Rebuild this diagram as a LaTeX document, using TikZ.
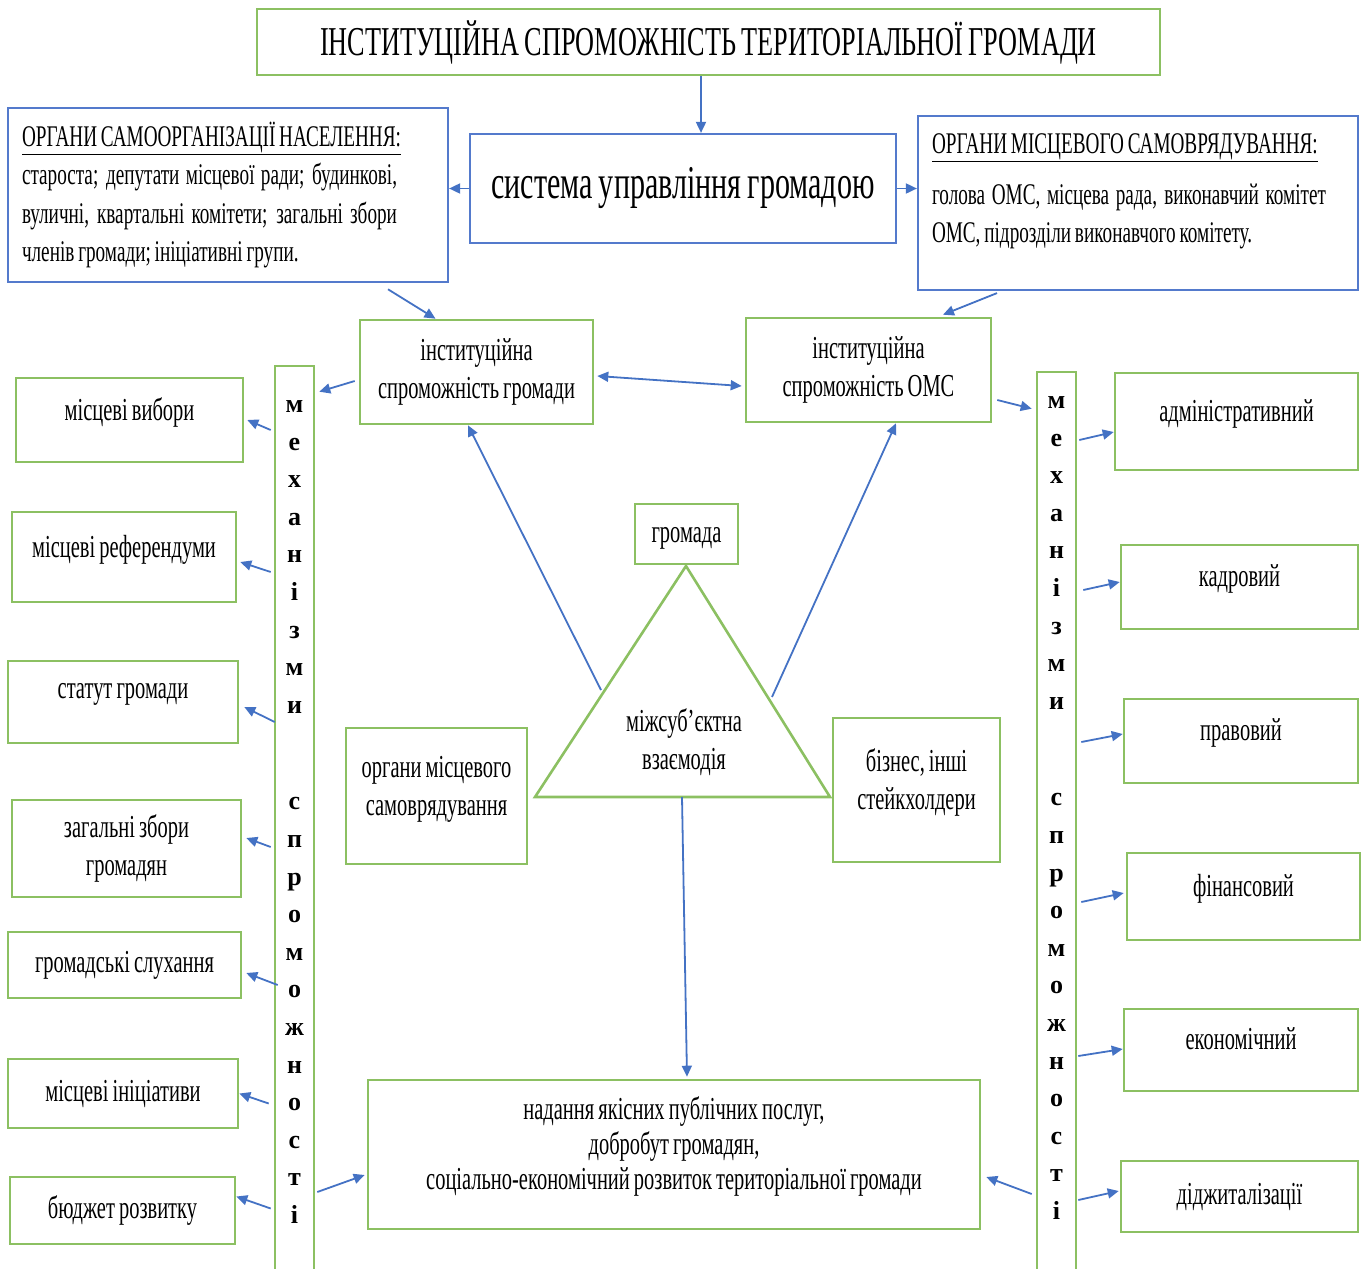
\documentclass[tikz,border=0pt]{standalone}
\usepackage{fontspec}
\setmainfont[FakeStretch=0.64, WordSpace=0.8]{Liberation Serif}
\newfontfamily\barfont{Liberation Serif}
\usetikzlibrary{arrows.meta}
\definecolor{boxgreen}{RGB}{140,192,98}
\definecolor{boxblue}{RGB}{84,122,204}
\definecolor{arrblue}{RGB}{68,114,196}
\newcommand{\txtfont}{\fontsize{32}{38}\selectfont}
\newcommand{\bluefont}{\fontsize{30}{38.5}\selectfont}
\tikzset{
  gbox/.style={draw=boxgreen, line width=2.6pt, fill=white, inner sep=6pt, font=\txtfont},
  bbox/.style={draw=boxblue, line width=2.2pt, fill=white, inner sep=14pt, font=\bluefont},
  lift/.style={text depth=22pt},
  bartext/.style={align=center, font=\barfont\bfseries\fontsize{26}{37.6}\selectfont},
  arr/.style={->, draw=arrblue, line width=1.8pt},
}
\begin{document}
\begin{tikzpicture}[x=1pt, y=-1pt, >={Triangle[length=11pt,width=10pt]}]
\useasboundingbox (0,0) rectangle (1366,1269);
\clip (0,0) rectangle (1366,1269);
% top level
\node[gbox, minimum width=903, minimum height=66, font=\fontsize{41}{48}\selectfont] (title) at (708.5,42) {ІНСТИТУЦІЙНА СПРОМОЖНІСТЬ ТЕРИТОРІАЛЬНОЇ ГРОМАДИ};
\node[bbox, minimum width=426, minimum height=109, font=\fontsize{47}{54}\selectfont] (sys) at (683,188.5) {система управління громадою};
\node[bbox, minimum width=440, minimum height=172] (som) at (228,195) {\parbox{375pt}{\underline{ОРГАНИ САМООРГАНІЗАЦІЇ НАСЕЛЕННЯ:}\\ староста; депутати місцевої ради; будинкові,\linebreak вуличні, квартальні комітети; загальні збори\linebreak членів громади; ініціативні групи.}\hspace*{37pt}};
\node[bbox, minimum width=440, minimum height=174] (oms) at (1138,203) {\parbox{394pt}{\underline{ОРГАНИ МІСЦЕВОГО САМОВРЯДУВАННЯ:}\\[12pt] голова ОМС, місцева рада, виконавчий комітет\linebreak ОМС, підрозділи виконавчого комітету.\\[-9pt]\mbox{}}\hspace*{18pt}};
\node[gbox, minimum width=233, minimum height=104, align=center] (isg) at (476.5,372) {інституційна\\спроможність громади};
\node[gbox, minimum width=245, minimum height=104, align=center] (isoms) at (868.5,370) {інституційна\\спроможність ОМС};
% mechanism bars
\node[gbox, minimum width=39, minimum height=924] (lbar) at (294.5,828) {};
\node[bartext] (lletters) at (294.5,812) {м\\е\\х\\а\\н\\і\\з\\м\\и\\[59pt]с\\п\\р\\о\\м\\о\\ж\\н\\о\\с\\т\\і};
\node[gbox, minimum width=39, minimum height=918] (rbar) at (1056.5,831) {};
\node[bartext] (rletters) at (1056.5,808) {м\\е\\х\\а\\н\\і\\з\\м\\и\\[59pt]с\\п\\р\\о\\м\\о\\ж\\н\\о\\с\\т\\і};
% left column
\node[gbox, lift, minimum width=227, minimum height=84] (lb1) at (129.5,420) {місцеві вибори};
\node[gbox, lift, minimum width=224, minimum height=90] (lb2) at (124,557) {місцеві референдуми};
\node[gbox, lift, minimum width=230, minimum height=82] (lb3) at (123,702) {статут громади};
\node[gbox, minimum width=229, minimum height=97, align=center] (lb4) at (126.5,848.5) {загальні збори\\громадян};
\node[gbox, minimum width=233, minimum height=66] (lb5) at (124.5,965) {громадські слухання};
\node[gbox, minimum width=230, minimum height=69] (lb6) at (123,1093.5) {місцеві ініціативи};
\node[gbox, minimum width=225, minimum height=67] (lb7) at (122.5,1210.5) {бюджет розвитку};
% right column
\node[gbox, lift, minimum width=243, minimum height=97] (rb1) at (1236.5,421.5) {адміністративний};
\node[gbox, lift, minimum width=237, minimum height=84] (rb2) at (1239.5,587) {кадровий};
\node[gbox, lift, minimum width=234, minimum height=84] (rb3) at (1241,741) {правовий};
\node[gbox, lift, minimum width=233, minimum height=87] (rb4) at (1243.5,896.5) {фінансовий};
\node[gbox, lift, minimum width=234, minimum height=82] (rb5) at (1241,1050) {економічний};
\node[gbox, minimum width=237, minimum height=71] (rb6) at (1239.5,1196.5) {діджиталізації};
% centre
\coordinate (ttop) at (686,566);
\coordinate (tleft) at (535,797);
\coordinate (tright) at (830,797);
\draw[draw=boxgreen, line width=2.6pt, line join=miter] (ttop) -- (tleft) -- (tright) -- cycle;
\node[align=center, font=\txtfont] (inter) at (684,742) {міжсуб’єктна\\взаємодія};
\node[gbox, text height=24pt, minimum width=103, minimum height=60] (hrom) at (686.5,534) {громада};
\node[gbox, minimum width=181, minimum height=136, align=center] (omsb) at (436.5,796) {органи місцевого\\самоврядування\\[-17pt]\mbox{}};
\node[gbox, minimum width=167, minimum height=144, align=center] (biz) at (916.5,790) {бізнес, інші\\стейкхолдери\\[-17pt]\mbox{}};
\node[gbox, minimum width=612, minimum height=149, align=center, font=\fontsize{32}{35}\selectfont] (result) at (674,1154.5) {надання якісних публічних послуг,\\добробут громадян,\\соціально-економічний розвиток територіальної громади\\[-13pt]\mbox{}};
\coordinate (tlpt) at (601,690);
\coordinate (trpt) at (772,697);
\coordinate (tbase) at (682,797);
% connectors
\draw[arr] ([xshift=-7.5pt]title.south) -- ([xshift=18pt]sys.north);
\draw[arr] (sys.west) -- (sys.west -| som.east);
\draw[arr] (sys.east) -- (sys.east -| oms.west);
\draw[arr] ([xshift=160pt,yshift=-6pt]som.south) -- ([xshift=-41pt]isg.north);
\draw[arr] ([xshift=-141pt,yshift=-2pt]oms.south) -- ([xshift=74.5pt,yshift=2pt]isoms.north);
\draw[arr, <->] ([xshift=3pt,yshift=-4pt]isg.east) -- ([xshift=-3pt,yshift=-16pt]isoms.west);
\draw[arr] ([xshift=-4pt,yshift=-9pt]isg.west) -- ([xshift=4pt,yshift=-27pt]lbar.north east);
\draw[arr] ([xshift=5pt,yshift=-30pt]isoms.east) -- ([xshift=-4pt,yshift=-38pt]rbar.north west);
\draw[arr] (tlpt) -- ([xshift=-8.5pt]isg.south);
\draw[arr] (trpt) -- ([xshift=27.5pt]isoms.south);
\draw[arr] (tbase) -- ([xshift=13pt,yshift=2pt]result.north);
\draw[arr] ([xshift=-3pt,yshift=-10pt]lb1.east -| lbar.west) -- ([xshift=3pt]lb1.east);
\draw[arr] ([xshift=-3pt,yshift=-15pt]lb2.east -| lbar.west) -- ([xshift=3pt,yshift=-5pt]lb2.east);
\draw[arr] ([xshift=1pt,yshift=-20pt]lb3.east -| lbar.west) -- ([xshift=5pt,yshift=-5pt]lb3.east);
\draw[arr] ([xshift=-3pt,yshift=1.5pt]lb4.east -| lbar.west) -- ([xshift=4pt,yshift=10.5pt]lb4.east);
\draw[arr] ([xshift=4pt,yshift=-20pt]lb5.east -| lbar.west) -- ([xshift=4pt,yshift=-8pt]lb5.east);
\draw[arr] ([xshift=-5pt,yshift=-10pt]lb6.east -| lbar.west) -- ([xshift=0pt]lb6.east);
\draw[arr] ([xshift=-3pt,yshift=2pt]lb7.east -| lbar.west) -- ([xshift=0pt,yshift=14pt]lb7.east);
\draw[arr] ([xshift=2pt,yshift=-18.5pt]rb1.west -| rbar.east) -- ([yshift=-10.5pt]rb1.west);
\draw[arr] ([xshift=6pt,yshift=-3pt]rb2.west -| rbar.east) -- ([yshift=5pt]rb2.west);
\draw[arr] ([xshift=4pt,yshift=-1pt]rb3.west -| rbar.east) -- ([yshift=7pt]rb3.west);
\draw[arr] ([xshift=4pt,yshift=-5.5pt]rb4.west -| rbar.east) -- ([xshift=-2pt,yshift=3.5pt]rb4.west);
\draw[arr] ([xshift=1pt,yshift=-6pt]rb5.west -| rbar.east) -- ([yshift=1pt]rb5.west);
\draw[arr] ([xshift=1pt,yshift=-3.5pt]rb6.west -| rbar.east) -- ([xshift=-1pt,yshift=5.5pt]rb6.west);
\draw[arr] ([xshift=2pt]lbar.east |- 0,1192) -- ([xshift=-2pt,yshift=-20.5pt]result.west);
\draw[arr] ([xshift=-4pt]rbar.west |- 0,1194) -- ([xshift=5pt,yshift=-22.5pt]result.east);
\end{tikzpicture}
\end{document}
